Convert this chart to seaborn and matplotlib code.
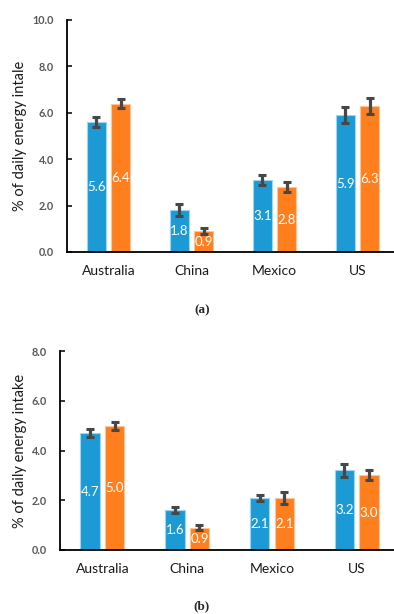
import matplotlib
matplotlib.use("Agg")
import matplotlib.pyplot as plt
import seaborn as sns
import pandas as pd

# Countries and the two series shown in each panel
countries = ["Australia", "China", "Mexico", "US"]
series = ["Series 1", "Series 2"]

# Panel (a)
a_s1 = [5.6, 1.8, 3.1, 5.9]
a_s2 = [6.4, 0.9, 2.8, 6.3]
a_s1_err = [0.22, 0.25, 0.2, 0.35]
a_s2_err = [0.2, 0.13, 0.23, 0.35]
a_ticks = [0.0, 2.0, 4.0, 6.0, 8.0, 10.0]
a_ylabel = "% of daily energy intale"

# Panel (b)
b_s1 = [4.7, 1.6, 2.1, 3.2]
b_s2 = [5.0, 0.9, 2.1, 3.0]
b_s1_err = [0.17, 0.13, 0.13, 0.25]
b_s2_err = [0.16, 0.1, 0.25, 0.2]
b_ticks = [0.0, 2.0, 4.0, 6.0, 8.0]
b_ylabel = "% of daily energy intake"

BLUE = "#1B9AD6"
ORANGE = "#FF7F1F"
EDGES = ["#9ED6F1", "#FFC59A"]
ERR = "#474747"

sns.set_style("white")
plt.rcParams["font.family"] = ["Lato", "DejaVu Sans"]

W, H = 394, 614
fig = plt.figure(figsize=(W / 100, H / 100), dpi=100)


def panel(rect_px, v1, v2, e1, e2, ticks, ylabel, caption, cap_xy, ylab_x, xmax):
    left, top, right, bottom = rect_px
    ax = fig.add_axes([left / W, 1 - bottom / H, (right - left) / W, (bottom - top) / H])
    df = pd.DataFrame({
        "country": countries * 2,
        "series": [series[0]] * 4 + [series[1]] * 4,
        "value": list(v1) + list(v2),
    })
    sns.barplot(data=df, x="country", y="value", hue="series", order=countries,
                hue_order=series, palette=[BLUE, ORANGE], saturation=1,
                width=0.58, gap=0.21, legend=False, errorbar=None, ax=ax)
    for cont, edge, errs in zip(ax.containers, EDGES, [e1, e2]):
        xs, ys = [], []
        for p in cont:
            p.set_edgecolor(edge)
            p.set_linewidth(0.8)
            xs.append(p.get_x() + p.get_width() / 2)
            ys.append(p.get_height())
        ax.errorbar(xs, ys, yerr=errs, fmt="none", ecolor=ERR, elinewidth=2.3,
                    capsize=3.0, capthick=2.2, zorder=5)
        ax.bar_label(cont, fmt="%.1f", label_type="center", color="white",
                     fontsize=9.5, padding=0)
    ax.set_xlim(-0.5, xmax)
    ax.set_ylim(ticks[0], ticks[-1])
    ax.set_yticks(ticks)
    ax.set_yticklabels([f"{t:.1f}" for t in ticks])
    ax.tick_params(axis="y", direction="in", length=3.5, width=1.1, color="black",
                   labelsize=7.8, labelcolor="#595959", pad=9.5, left=True)
    for lab in ax.get_yticklabels():
        lab.set_fontweight("bold")
    ax.tick_params(axis="x", length=0, labelsize=10, labelcolor="#1a1a1a", pad=9.5)
    ax.set_xlabel("")
    ax.set_ylabel(ylabel, fontsize=10.5, color="#1a1a1a")
    ax.yaxis.set_label_coords(ylab_x, 0.5)
    for s in ["top", "right"]:
        ax.spines[s].set_visible(False)
    for s in ["left", "bottom"]:
        ax.spines[s].set_color("black")
        ax.spines[s].set_linewidth(1.3)
    fig.text(cap_xy[0] / W, 1 - cap_xy[1] / H, caption, ha="center", va="center",
             fontsize=9.5, fontweight="bold", family=["Liberation Serif", "DejaVu Serif"])
    return ax


panel((67, 20, 394, 252), a_s1, a_s2, a_s1_err, a_s2_err, a_ticks, a_ylabel,
      "(a)", (202, 310), (27 - 67) / 327, 3.44)
panel((60, 351, 394, 550), b_s1, b_s2, b_s1_err, b_s2_err, b_ticks, b_ylabel,
      "(b)", (202, 606), (27 - 60) / 334, 3.44)

fig.savefig("out.png", dpi=100)
